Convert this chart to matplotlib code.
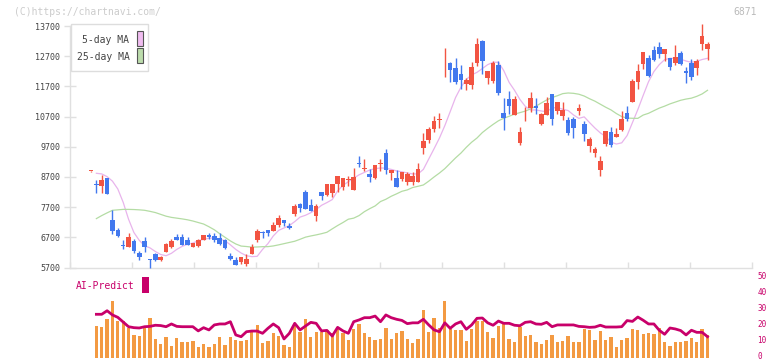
import matplotlib
matplotlib.use("Agg")
import matplotlib.pyplot as plt
from matplotlib.patches import Rectangle
from matplotlib.transforms import ScaledTranslation
import numpy as np

W, H = 772, 361

# ---------------- data ----------------
opens = [8890, 8470, 8410, 8666, 7275, 6943, 6440, 6390, 6590, 6195,
         6578, 5965, 6150, 5960, 6215, 6370, 6712, 6700, 6612, 6390,
         6414, 6612, 6767, 6745, 6668, 6612, 6073, 5950, 5894, 5828,
         6150, 6612, 6860, 6944, 6910, 7110, 7275, 7087, 7483, 7805,
         8202, 7772, 7417, 8202, 8103, 8180, 8467, 8378, 8590, 8280,
         9170, 8975, 8798, 8666, 9140, 9494, 8842, 8666, 8633, 8533,
         8533, 8543, 9670, 9935, 10299, 10590, 12425, 12475, 12309, 12110,
         11779, 11746, 12485, 13203, 11988, 11878, 12408, 10819, 11282, 10752,
         9825, 10770, 10984, 11050, 10454, 10752, 11448, 10885, 10719, 10587,
         10620, 10885, 10454, 9726, 9494, 8931, 9792, 10189, 10024, 10256,
         10819, 11183, 11845, 12441, 12640, 12905, 13004, 12773, 12640, 12475,
         12806, 12210, 12475, 12309, 13104, 12938]
closes = [8890, 8445, 8600, 8146, 6920, 6755, 6410, 6710, 6258, 6060,
          6390, 5940, 5950, 6050, 6480, 6590, 6600, 6447, 6447, 6503,
          6612, 6778, 6720, 6612, 6480, 6337, 5993, 5784, 6040, 5983,
          6390, 6922, 6830, 6834, 7110, 7351, 7185, 7000, 7738, 7682,
          7650, 7583, 7738, 8080, 8467, 8467, 8732, 8666, 8620, 8699,
          9140, 9000, 8699, 9096, 9170, 8941, 8931, 8368, 8864, 8798,
          8732, 8964, 9891, 10289, 10554, 10625, 12455, 12253, 11855, 11912,
          11912, 12342, 13104, 12551, 12210, 12475, 11481, 10653, 11050, 11282,
          10189, 10800, 11316, 10990, 10786, 11150, 10620, 11183, 10918, 10156,
          10322, 10984, 10123, 9958, 9626, 9229, 10222, 9759, 10123, 10620,
          10620, 11878, 12210, 12839, 12044, 12574, 12773, 12938, 12342, 12673,
          12441, 12143, 12011, 12541, 13369, 13104]
highs = [8900, 8600, 8775, 8666, 7606, 7000, 6612, 6855, 6635, 6258,
         6722, 5993, 6193, 6083, 6513, 6635, 6811, 6811, 6700, 6523,
         6635, 6778, 6855, 6855, 6855, 6635, 6172, 6040, 6040, 6149,
         6480, 6987, 6922, 6944, 7208, 7440, 7275, 7186, 7795, 7848,
         8268, 7970, 7795, 8202, 8467, 8467, 8732, 8666, 8732, 9009,
         9394, 9295, 8964, 9096, 9295, 9626, 8931, 8931, 8864, 8864,
         8864, 9163, 10156, 10355, 10719, 10819, 12971, 12508, 12640, 12408,
         11968, 12508, 13303, 13237, 12210, 12541, 12541, 11316, 11547, 11382,
         10355, 11017, 11514, 11316, 10819, 11349, 11448, 11183, 11183, 10686,
         10686, 11117, 10554, 10024, 9693, 9395, 10222, 10355, 10322, 10885,
         11050, 11944, 12441, 12839, 12740, 13038, 13170, 12938, 12640, 13071,
         12872, 12342, 12607, 12607, 13766, 13170]
lows = [8880, 8158, 8158, 8146, 6811, 6702, 6314, 6391, 6193, 5950,
        6225, 5695, 5927, 5927, 6215, 6347, 6600, 6447, 6447, 6371,
        6391, 6612, 6656, 6556, 6447, 6304, 5950, 5784, 5817, 5752,
        6149, 6556, 6689, 6745, 6910, 7033, 7076, 6987, 7407, 7550,
        7650, 7583, 7251, 7937, 8070, 8047, 8202, 8268, 8411, 8280,
        9020, 8898, 8533, 8633, 8898, 8798, 8600, 8368, 8566, 8434,
        8420, 8543, 9451, 9835, 10200, 10332, 12011, 11855, 11779, 11613,
        11580, 11613, 12375, 12120, 11779, 11822, 11415, 10256, 10786, 10752,
        9759, 10554, 10852, 10786, 10421, 10752, 10421, 10786, 10587, 10090,
        9990, 10753, 9891, 9527, 9362, 8732, 9726, 9693, 10024, 10222,
        10554, 11183, 11614, 12276, 12011, 12541, 12640, 12541, 12243, 12408,
        12408, 11812, 11912, 12077, 12905, 12574]

ma5 = [np.nan, 8821, 8800, 8710, 8560, 8300, 7860, 7300, 6860, 6600,
       6420, 6350, 6230, 6130, 6090, 6170, 6300, 6400, 6470, 6510,
       6590, 6630, 6670, 6680, 6640, 6590, 6450, 6300, 6180, 6090,
       6060, 6070, 6300, 6490, 6745, 6930, 7010, 7090, 7220, 7370,
       7430, 7515, 7620, 7760, 7850, 7950, 8240, 8420, 8543, 8660,
       8770, 8850, 8930, 8975, 8997, 8990, 8950, 8900, 8870, 8830,
       8800, 8800, 8950, 9295, 9637, 9990, 10400, 10862, 11330, 11670,
       11930, 12080, 12165, 12290, 12420, 12495, 12500, 12220, 11830, 11570,
       11270, 11040, 10918, 10918, 10885, 10860, 10985, 11000, 10941, 10900,
       10753, 10640, 10690, 10500, 10320, 10160, 10040, 9850, 9790, 9830,
       10070, 10500, 10930, 11400, 11855, 12190, 12420, 12585, 12630, 12630,
       12600, 12540, 12497, 12530, 12590, 12630]
ma25 = [np.nan, 7320, 7420, 7510, 7595, 7610, 7625, 7625, 7620, 7610,
        7595, 7560, 7520, 7460, 7400, 7360, 7335, 7310, 7280, 7240,
        7190, 7140, 7050, 6950, 6820, 6700, 6580, 6480, 6410, 6395,
        6375, 6380, 6390, 6391, 6414, 6450, 6490, 6530, 6570, 6635,
        6705, 6745, 6780, 6820, 6867, 6980, 7090, 7190, 7300, 7335,
        7420, 7550, 7650, 7740, 7885, 7960, 8060, 8140, 8225, 8270,
        8350, 8390, 8434, 8560, 8700, 8830, 8975, 9153, 9330, 9490,
        9680, 9850, 9990, 10170, 10310, 10440, 10560, 10645, 10710, 10780,
        10830, 10880, 10955, 11045, 11150, 11250, 11330, 11390, 11460, 11481,
        11470, 11440, 11380, 11290, 11210, 11110, 11010, 10920, 10800, 10700,
        10650, 10643, 10640, 10750, 10808, 10895, 10980, 11045, 11120, 11180,
        11240, 11280, 11310, 11370, 11450, 11570]

volume = [np.nan, 20.0, 19.4, 24.4, 35.5, 23.1, 23.1, 19.0, 14.5, 13.8,
          18.6, 25.0, 12.0, 8.9, 13.2, 7.9, 12.6, 10.1, 10.1, 11.0,
          7.0, 8.9, 7.0, 8.9, 13.4, 8.3, 13.4, 11.4, 10.5, 11.4,
          16.3, 20.7, 9.5, 10.7, 15.7, 13.8, 8.3, 7.0, 20.7, 16.3,
          24.4, 13.2, 16.3, 16.3, 17.6, 15.7, 18.8, 15.7, 11.4, 18.2,
          21.3, 15.7, 13.2, 11.4, 12.0, 18.8, 12.0, 15.7, 16.9, 12.0,
          9.5, 12.0, 30.0, 16.3, 25.0, 18.8, 35.5, 18.2, 17.6, 17.6,
          10.7, 18.2, 23.1, 23.1, 16.3, 12.6, 20.0, 21.3, 12.0, 10.1,
          19.4, 13.8, 14.5, 10.1, 8.9, 11.4, 14.5, 10.1, 10.7, 13.8,
          10.1, 10.1, 18.2, 17.6, 11.4, 16.9, 11.4, 13.2, 7.0, 11.4,
          12.6, 18.2, 17.6, 15.1, 15.7, 15.1, 18.8, 10.1, 7.6, 10.1,
          10.1, 10.7, 12.6, 10.1, 18.2, 14.5]
ai_predict = [np.nan, 27.3, 27.3, 29.5, 26.9, 25.4, 22.5, 19.6, 19.0, 18.8,
              19.6, 19.8, 20.5, 20.3, 19.6, 21.3, 19.8, 19.6, 19.6, 19.6,
              17.0, 19.0, 17.6, 20.7, 21.3, 21.3, 22.7, 14.5, 13.4, 16.5,
              16.9, 16.9, 15.5, 18.6, 21.3, 19.0, 12.0, 15.5, 21.7, 17.6,
              20.0, 22.3, 21.7, 17.0, 17.3, 13.8, 19.2, 17.0, 15.5, 22.7,
              23.8, 25.2, 25.2, 26.2, 22.7, 26.9, 25.2, 24.2, 23.5, 21.5,
              22.0, 22.0, 24.2, 20.7, 17.6, 16.5, 22.0, 18.6, 21.3, 22.7,
              18.0, 20.7, 24.8, 25.0, 22.0, 20.5, 23.1, 21.7, 21.7, 20.5,
              20.2, 22.3, 22.7, 21.3, 21.1, 22.3, 19.6, 20.7, 20.7, 20.7,
              20.7, 19.8, 19.6, 19.2, 19.4, 20.5, 19.4, 19.4, 19.4, 19.6,
              23.4, 22.9, 25.6, 23.6, 21.3, 21.3, 17.4, 14.9, 18.8, 18.2,
              17.2, 14.5, 17.4, 16.1, 16.1, 13.4]

date_labels = ["11/28", "12/12", "12/26", "1/15", "1/29", "2/13",
               "3/2", "3/16", "3/31", "4/14", "4/28"]
date_label_idx = [15, 25, 35, 45, 55, 65, 75, 85, 95, 105, 115]
price_ticks = [5700, 6700, 7700, 8700, 9700, 10700, 11700, 12700, 13700]
vol_ticks = [0, 10, 20, 30, 40, 50]

# ---------------- styling ----------------
RED = "#f25442"
BLUE = "#4278ee"
PINK = "#e8b4ec"
GREEN = "#b4dca4"
ORANGE = "#f39a42"
MAGENTA = "#c8006a"
AXC = "#e0e0e0"
TXT = "#444444"
MONO = "DejaVu Sans Mono"

fig = plt.figure(figsize=(W / 100, H / 100), dpi=100)
fig.patch.set_facecolor("white")

def fx(x):
    return x / W

def fy(y):
    return 1 - y / H

x_lo, x_hi = -3.92, 123.3
n = len(opens)
idx = np.arange(n)

ax = fig.add_axes([fx(70), fy(267.5), fx(752) - fx(70), fy(26) - fy(267.5)])
ax.set_xlim(x_lo, x_hi)
ax.set_ylim(5700, 13700)
for s in ["top", "right"]:
    ax.spines[s].set_visible(False)
for s in ["left", "bottom"]:
    ax.spines[s].set_color(AXC)
    ax.spines[s].set_linewidth(1.0)

o = np.array(opens, float)
c = np.array(closes, float)
hh = np.array(highs, float)
ll = np.array(lows, float)
up = c >= o
cols = np.where(up, RED, BLUE)

ax.vlines(idx, ll, hh, colors=cols, linewidth=1.0, clip_on=False, zorder=3)
bottoms = np.minimum(o, c)
heights = np.maximum(np.abs(c - o), 30)
ax.bar(idx, heights, bottom=bottoms, width=0.86, color=cols,
       linewidth=0, clip_on=False, zorder=4)

ax.plot(idx, ma5, color=PINK, linewidth=0.9, zorder=2)
ax.plot(idx, ma25, color=GREEN, linewidth=0.9, zorder=2)

ax.set_yticks(price_ticks)
ax.set_yticklabels([str(v) for v in price_ticks], fontsize=6, family=MONO,
                   color=TXT)
ax.tick_params(axis="y", direction="inout", length=8, width=1,
               color=AXC, pad=3)

major_x = [x_lo + k * (x_hi - x_lo) / 11 for k in range(12)]
ax.set_xticks(major_x)
ax.set_xticklabels([])
ax.tick_params(axis="x", which="major", direction="in", length=4,
               width=1, color=AXC)
ax.set_xticks(date_label_idx, minor=True)
ax.set_xticklabels(date_labels, minor=True, fontsize=6, family=MONO,
                   color=TXT)
ax.tick_params(axis="x", which="minor", length=0, pad=9)

# legend
fig.patches.append(Rectangle((fx(70.7), fy(71)), fx(148.3) - fx(70.7),
                             fy(24) - fy(71), transform=fig.transFigure,
                             facecolor="white", edgecolor="#dddddd",
                             linewidth=1, zorder=10))
fig.patches.append(Rectangle((fx(136.5), fy(46.3)), fx(6.3), fy(31.3) - fy(46.3),
                             transform=fig.transFigure, facecolor="#f0bcf0",
                             edgecolor="#555555", linewidth=0.8, zorder=11))
fig.patches.append(Rectangle((fx(136.5), fy(63.3)), fx(6.3), fy(48.3) - fy(63.3),
                             transform=fig.transFigure, facecolor="#bcdcac",
                             edgecolor="#555555", linewidth=0.8, zorder=11))
fig.text(fx(129.5), fy(40), "5-day MA", ha="right", va="center",
         fontsize=7, family=MONO, color=TXT, zorder=12)
fig.text(fx(129.5), fy(57), "25-day MA", ha="right", va="center",
         fontsize=7, family=MONO, color=TXT, zorder=12)

fig.text(fx(14), fy(12), "(C)https://chartnavi.com/", ha="left", va="center",
         fontsize=7, family=MONO, color="#cccccc")
fig.text(fx(757), fy(12), "6871", ha="right", va="center",
         fontsize=7, family=MONO, color="#bbbbbb")

# volume panel
axv = fig.add_axes([fx(70), fy(358.3), fx(752) - fx(70), fy(277.7) - fy(358.3)])
axv.set_xlim(x_lo, x_hi)
axv.set_ylim(0, 50)
for s in axv.spines.values():
    s.set_visible(False)
axv.bar(idx, volume, width=0.62, color=ORANGE, linewidth=0, zorder=2)
axv.plot(idx, ai_predict, color=MAGENTA, linewidth=2.0, zorder=3)
axv.set_xticks([])
axv.yaxis.tick_right()
axv.set_yticks(vol_ticks)
axv.set_yticklabels([str(v) for v in vol_ticks], fontsize=5.5, family=MONO,
                    color=MAGENTA)
axv.tick_params(axis="y", length=0, pad=4)
shift = ScaledTranslation(0, 2.5 / 100, fig.dpi_scale_trans)
for lab in axv.get_yticklabels():
    lab.set_transform(lab.get_transform() + shift)

fig.text(fx(76), fy(286), "AI-Predict", ha="left", va="center",
         fontsize=7, family=MONO, color=MAGENTA)
fig.patches.append(Rectangle((fx(142), fy(293)), fx(7), fy(277) - fy(293),
                             transform=fig.transFigure, facecolor=MAGENTA,
                             edgecolor="none"))

fig.savefig("out.png", dpi=100, facecolor="white")
